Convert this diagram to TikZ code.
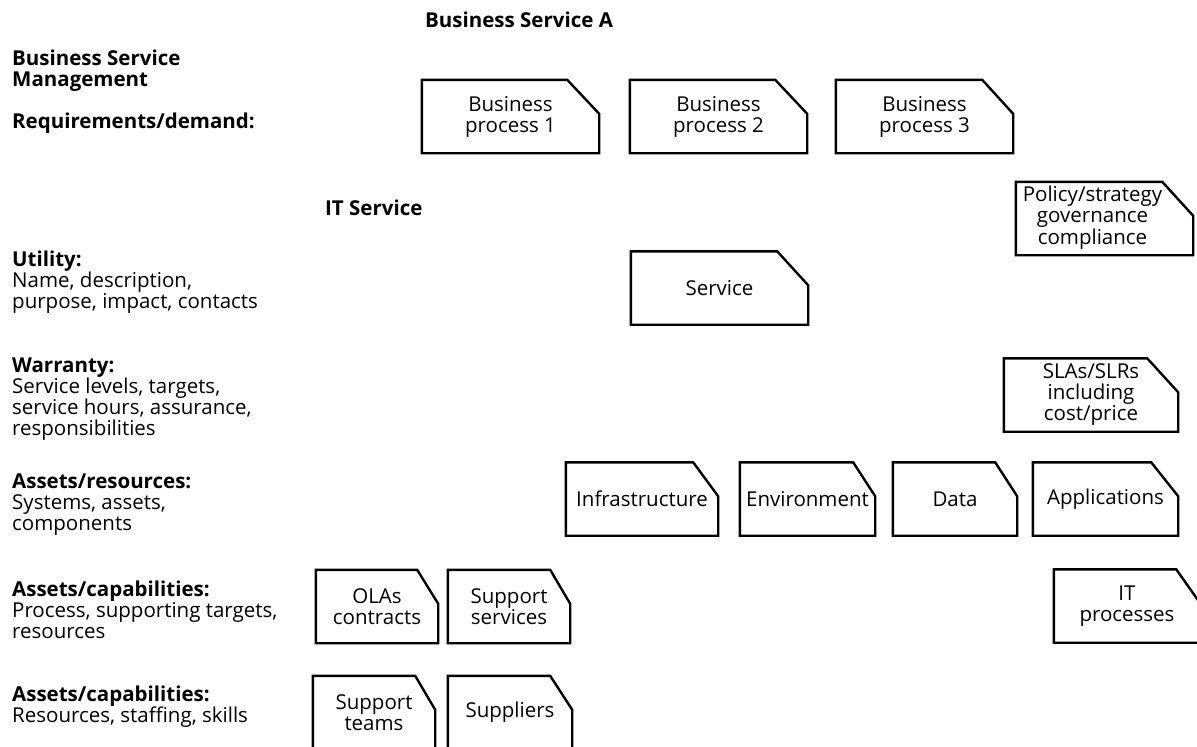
\documentclass[tikz,border=0pt]{standalone}
\usepackage{fontspec}
\setmainfont{Open Sans}
\tikzset{
  doc/.style={minimum width=#1, minimum height=73, inner sep=0pt, align=center},
  docline/.style={line width=2.4pt, line join=miter},
  lab/.style={anchor=base west, inner sep=0pt, align=left}
}
\begin{document}
\begin{tikzpicture}[x=1pt,y=-1pt,font=\fontsize{20.5}{21}\selectfont]
  \useasboundingbox (0,0) rectangle (1197,747);
  \clip (0,0) rectangle (1197,747);
  % headings
  \node[lab] (bsA) at (425,27) {\textbf{Business Service A}};
  \node[lab] (its) at (325,215) {\textbf{IT Service}};
  % row labels, placed at the baseline of their last line
  \foreach \n/\y/\t in {bsm/86/{\textbf{Business Service}\\\textbf{Management}},
      req/128/{\textbf{Requirements/demand:}},
      uti/308/{\textbf{Utility:}\\Name, description,\\purpose, impact, contacts},
      war/435/{\textbf{Warranty:}\\Service levels, targets,\\service hours, assurance,\\responsibilities},
      res/530/{\textbf{Assets/resources:}\\Systems, assets,\\components},
      capA/638/{\textbf{Assets/capabilities:}\\Process, supporting targets,\\resources},
      capB/722/{\textbf{Assets/capabilities:}\\Resources, staffing, skills}}{
    \node[lab] (\n) at (12,\y) {\t};
  }
  % boxes with the cut corner
  \foreach \n/\x/\y/\w/\cut/\t in {
      bpA/510.5/116.5/177/32/{Business\\process 1},
      bpB/718.5/116.5/177/32/{Business\\process 2},
      bpC/924.5/116.5/177/31/{Business\\process 3},
      pol/1104.5/218.5/177/31/{\begin{tabular}{@{}c@{}}Policy/strategy\\governance\\compliance\end{tabular}\hspace*{24pt}},
      srv/719.5/288/177/31/{Service},
      sla/1091/395/174/31/{SLAs/SLRs\\including\\cost/price},
      inf/642/499/152/25/{Infrastructure},
      env/807.5/499/135/22/{Environment},
      dat/955/499/124/22/{Data},
      app/1105.5/499/145/27/{Applications},
      ola/377/606.5/122/21/{OLAs\\contracts},
      sps/509/606.5/122/20/{Support\\services},
      itp/1127/606/146/24/{IT\\processes},
      tms/374/712.5/122/20/{Support\\teams},
      sup/510/712.5/124/22/{Suppliers}}{
    \node[doc=\w] (\n) at (\x,\y) {\t};
    \draw[docline] (\n.south west) -- (\n.north west) -- ([xshift=-\cut]\n.north east)
      -- ([yshift=-34]\n.north east) -- (\n.south east) -- cycle;
  }
\end{tikzpicture}
\end{document}
